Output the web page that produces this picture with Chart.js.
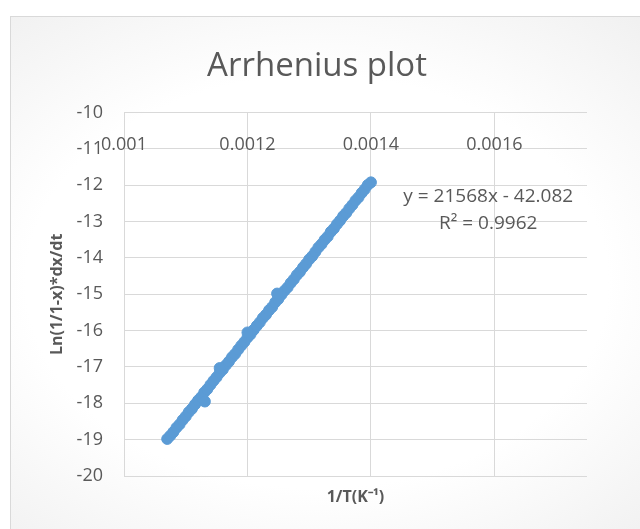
<!DOCTYPE html>
<html>
<head>
<meta charset="utf-8">
<script src="https://cdn.jsdelivr.net/npm/chart.js@4.4.1/dist/chart.umd.min.js"></script>
<style>
  html, body { margin: 0; padding: 0; background: #ffffff; }
  #wrap { position: relative; width: 640px; height: 529px; overflow: hidden; }
  #frame {
    position: absolute; left: 10px; top: 16px; width: 680px; height: 530px;
    border: 1px solid #d9d9d9;
    background: radial-gradient(ellipse at 45% 50%, #ffffff 55%, #eeeeee 100%);
  }
  #chart { position: absolute; left: 0; top: 0; }
</style>
</head>
<body>
<div id="wrap">
  <div id="frame"></div>
  <canvas id="chart" width="640" height="529"></canvas>
</div>
<script>
// 1/T values (K^-1)
const invT = [
  0.001070, 0.001075, 0.001080, 0.001085, 0.001090, 0.001095, 0.001100, 0.001105,
  0.001110, 0.001115, 0.001120, 0.001125, 0.001130, 0.001135, 0.001140, 0.001145,
  0.001150, 0.001155, 0.001160, 0.001165, 0.001170, 0.001175, 0.001180, 0.001185,
  0.001190, 0.001195, 0.001200, 0.001205, 0.001210, 0.001215, 0.001220, 0.001225,
  0.001230, 0.001235, 0.001240, 0.001245, 0.001250, 0.001255, 0.001260, 0.001265,
  0.001270, 0.001275, 0.001280, 0.001285, 0.001290, 0.001295, 0.001300, 0.001305,
  0.001310, 0.001315, 0.001320, 0.001325, 0.001330, 0.001335, 0.001340, 0.001345,
  0.001350, 0.001355, 0.001360, 0.001365, 0.001370, 0.001375, 0.001380, 0.001385,
  0.001390, 0.001395, 0.001400,
  0.001131, 0.001155, 0.001200, 0.001248
];
// Ln(1/1-x)*dx/dt
const lnRate = [
  -18.98, -18.89, -18.79, -18.67, -18.58, -18.46, -18.36, -18.24,
  -18.15, -18.03, -17.92, -17.83, -17.70, -17.61, -17.49, -17.38,
  -17.28, -17.16, -17.07, -16.95, -16.85, -16.73, -16.64, -16.52,
  -16.41, -16.31, -16.19, -16.10, -15.98, -15.87, -15.77, -15.65,
  -15.56, -15.44, -15.35, -15.22, -15.13, -15.01, -14.90, -14.81,
  -14.69, -14.59, -14.47, -14.38, -14.26, -14.16, -14.04, -13.95,
  -13.83, -13.71, -13.62, -13.50, -13.41, -13.28, -13.19, -13.07,
  -12.97, -12.85, -12.76, -12.64, -12.54, -12.42, -12.33, -12.21,
  -12.11, -11.99, -11.92,
  -17.95, -17.03, -16.05, -14.98
];

const xTicks = [0.001, 0.0012, 0.0014, 0.0016];
const xTickLabels = ['0.001', '0.0012', '0.0014', '0.0016'];
const yTicks = [-20, -19, -18, -17, -16, -15, -14, -13, -12, -11, -10];
const yTickLabels = ['-20', '-19', '-18', '-17', '-16', '-15', '-14', '-13', '-12', '-11', '-10'];
const xLabelRow = -10.9;          // x labels sit on the value axis near -11
const trendLines = ['y = 21568x - 42.082', 'R\u00B2 = 0.9962'];
const trendAnchor = { x: 0.00159, y: -12.3 };

const textGray = '#595959';
const gridGray = '#d9d9d9';
const pointBlue = '#5b9bd5';

Chart.defaults.font.family = "'Open Sans', sans-serif";
Chart.defaults.color = textGray;

// x tick labels drawn inside the plot, the way the sheet shows them
const innerXLabels = {
  id: 'innerXLabels',
  afterDatasetsDraw(chart) {
    const { ctx, scales: { x, y } } = chart;
    ctx.save();
    ctx.font = "18px 'Open Sans'";
    ctx.fillStyle = textGray;
    ctx.textAlign = 'center';
    ctx.textBaseline = 'middle';
    const py = y.getPixelForValue(xLabelRow);
    xTicks.forEach((v, i) => ctx.fillText(xTickLabels[i], x.getPixelForValue(v), py));
    ctx.restore();
  }
};

// trendline equation label
const trendLabel = {
  id: 'trendLabel',
  afterDatasetsDraw(chart) {
    const { ctx, scales: { x, y } } = chart;
    ctx.save();
    ctx.font = "19px 'Open Sans'";
    ctx.fillStyle = textGray;
    ctx.textAlign = 'center';
    ctx.textBaseline = 'middle';
    const px = x.getPixelForValue(trendAnchor.x);
    const py = y.getPixelForValue(trendAnchor.y);
    trendLines.forEach((t, i) => ctx.fillText(t, px, py + i * 27));
    ctx.restore();
  }
};

const ctx = document.getElementById('chart').getContext('2d');

new Chart(ctx, {
  type: 'scatter',
  data: {
    datasets: [{
      label: 'Ln(1/1-x)*dx/dt',
      data: invT.map((v, i) => ({ x: v, y: lnRate[i] })),
      backgroundColor: pointBlue,
      borderColor: pointBlue,
      borderWidth: 1,
      pointRadius: 5.5,
      pointHoverRadius: 5.5
    }]
  },
  options: {
    responsive: false,
    animation: false,
    devicePixelRatio: 1,
    layout: { padding: { left: 47, right: 53, top: 0, bottom: 0 } },
    plugins: {
      legend: { display: false },
      tooltip: { enabled: false },
      title: {
        display: true,
        text: 'Arrhenius plot',
        color: textGray,
        font: { size: 33, weight: 'normal' },
        padding: { top: 47, bottom: 26 }
      }
    },
    scales: {
      x: {
        type: 'linear',
        position: 'bottom',
        min: 0.001,
        max: 0.00175,
        afterBuildTicks: (s) => { s.ticks = xTicks.map(v => ({ value: v })); },
        afterFit: (s) => { s.height = 53; },
        ticks: { display: false },
        grid: { color: gridGray, lineWidth: 1, drawTicks: false },
        border: { display: false },
        title: {
          display: true,
          text: '1/T(K\u207B\u00B9)',
          color: textGray,
          font: { size: 16, weight: 'bold' },
          padding: { top: 0, bottom: 22 }
        }
      },
      y: {
        type: 'linear',
        min: -20,
        max: -10,
        afterBuildTicks: (s) => { s.ticks = yTicks.map(v => ({ value: v })); },
        afterFit: (s) => { s.width = 77; },
        ticks: {
          padding: 21,
          color: textGray,
          font: { size: 18 },
          callback: (v, i) => yTickLabels[i]
        },
        grid: { color: gridGray, lineWidth: 1, drawTicks: false },
        border: { display: false },
        title: {
          display: true,
          text: 'Ln(1/1-x)*dx/dt',
          color: textGray,
          font: { size: 16, weight: 'bold' },
          padding: { top: 1, bottom: 0 }
        }
      }
    }
  },
  plugins: [innerXLabels, trendLabel]
});
</script>
</body>
</html>
